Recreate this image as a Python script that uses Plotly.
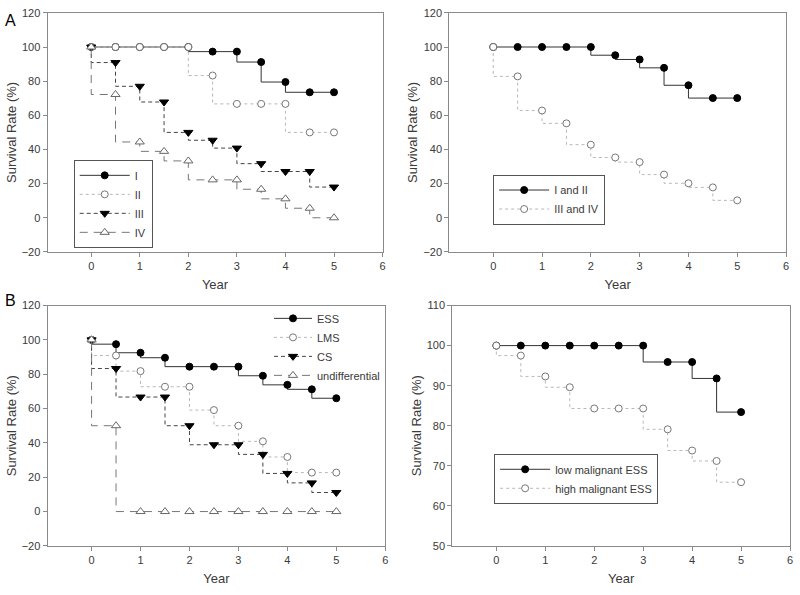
import plotly.graph_objects as go

# ---------------- data ----------------
years = [0, 0.5, 1, 1.5, 2, 2.5, 3, 3.5, 4, 4.5, 5]

# Panel A (left): by stage
stage_I = [100, 100, 100, 100, 100, 97.3, 97.3, 91.2, 79.5, 73.5, 73.5]
stage_II = [100, 100, 100, 100, 100, 83.3, 66.7, 66.7, 66.7, 50.0, 50.0]
stage_III = [100, 90.9, 77.0, 67.8, 50.0, 45.4, 40.8, 31.7, 27.1, 27.1, 18.0]
stage_IV = [100, 72.2, 44.4, 38.9, 33.3, 22.2, 22.2, 16.7, 11.1, 5.6, 0.0]

# Panel A (right): grouped stages
stage_I_II = [100, 100, 100, 100, 100, 95.2, 92.7, 87.8, 77.6, 70.1, 70.1]
stage_III_IV = [100, 82.8, 62.8, 55.3, 42.8, 35.3, 32.6, 25.3, 20.2, 17.8, 10.2]

# Panel B (left): by histology
ess = [100, 97.5, 92.5, 89.6, 84.4, 84.4, 84.4, 79.1, 73.8, 71.2, 66.0]
lms = [100, 90.9, 81.8, 72.7, 72.7, 59.1, 50.0, 40.9, 31.8, 22.7, 22.7]
cs = [100, 83.3, 66.7, 66.7, 50.0, 38.9, 38.9, 33.3, 22.2, 16.7, 11.1]
undiff = [100, 50, 0, 0, 0, 0, 0, 0, 0, 0, 0]

# Panel B (right): ESS grade
low_ess = [100, 100, 100, 100, 100, 100, 100, 95.9, 95.9, 91.8, 83.4]
high_ess = [100, 97.5, 92.3, 89.6, 84.3, 84.3, 84.3, 79.1, 73.8, 71.2, 65.9]

x_ticks = [0, 1, 2, 3, 4, 5, 6]
y_ticks_a = [-20, 0, 20, 40, 60, 80, 100, 120]
y_ticks_br = [50, 60, 70, 80, 90, 100, 110]

# ---------------- styles ----------------
FONT = "Liberation Sans"
AX = "#8a8a8a"
TXT = "#3a3a3a"

STY = {
    "filled_circle": dict(line=dict(color="#333333", width=1, dash="solid"),
                          marker=dict(symbol="circle", size=7, color="black",
                                      line=dict(color="black", width=1))),
    "open_circle": dict(line=dict(color="#b8b8b8", width=1, dash="dot"),
                        marker=dict(symbol="circle", size=7, color="white",
                                    line=dict(color="#777777", width=1))),
    "filled_tri": dict(line=dict(color="#444444", width=1, dash="4px,3px"),
                       marker=dict(symbol="triangle-down", size=8, color="black",
                                   line=dict(color="black", width=1))),
    "open_tri": dict(line=dict(color="#777777", width=1, dash="8px,6px"),
                     marker=dict(symbol="triangle-up", size=8, color="white",
                                 line=dict(color="#666666", width=1))),
}

fig = go.Figure()


def add(y, name, style, xa, ya, legend):
    s = STY[style]
    fig.add_trace(go.Scatter(
        x=years, y=y, name=name, mode="lines+markers", line_shape="vh",
        line=s["line"], marker=s["marker"], xaxis=xa, yaxis=ya,
        legend=legend, showlegend=True))


# Panel A left
add(stage_I, "I", "filled_circle", "x", "y", "legend")
add(stage_II, "II", "open_circle", "x", "y", "legend")
add(stage_III, "III", "filled_tri", "x", "y", "legend")
add(stage_IV, "IV", "open_tri", "x", "y", "legend")
# Panel A right
add(stage_I_II, "I and II", "filled_circle", "x2", "y2", "legend2")
add(stage_III_IV, "III and IV", "open_circle", "x2", "y2", "legend2")
# Panel B left
add(ess, "ESS", "filled_circle", "x3", "y3", "legend3")
add(lms, "LMS", "open_circle", "x3", "y3", "legend3")
add(cs, "CS", "filled_tri", "x3", "y3", "legend3")
add(undiff, "undifferential", "open_tri", "x3", "y3", "legend3")
# Panel B right
add(low_ess, "low malignant ESS", "filled_circle", "x4", "y4", "legend4")
add(high_ess, "high malignant ESS", "open_circle", "x4", "y4", "legend4")

W, H = 800, 595


def fx(px):
    return px / W


def fy(py):
    return 1 - py / H


def xaxis(dom, anchor):
    return dict(domain=dom, anchor=anchor, range=[-0.9, 6], tickvals=x_ticks,
                showgrid=False, zeroline=False, showline=True, linecolor=AX,
                linewidth=1, mirror=True, ticks="outside", ticklen=4,
                tickcolor=AX, tickfont=dict(family=FONT, size=11, color=TXT),
                title=dict(text="Year", standoff=8,
                           font=dict(family=FONT, size=13, color=TXT)))


def yaxis(dom, anchor, rng, tv):
    return dict(domain=dom, anchor=anchor, range=rng, tickvals=tv,
                showgrid=False, zeroline=False, showline=True, linecolor=AX,
                linewidth=1, mirror=True, ticks="outside", ticklen=4,
                tickcolor=AX, tickfont=dict(family=FONT, size=11, color=TXT),
                title=dict(text="Survival Rate (%)", standoff=2,
                           font=dict(family=FONT, size=13, color=TXT)))


top_dom = [fy(251), fy(7)]
bot_dom = [fy(551), fy(305.7)]

leg_common = dict(font=dict(family=FONT, size=11, color=TXT),
                  bgcolor="rgba(255,255,255,0)", xanchor="left", yanchor="top",
                  tracegroupgap=0)

fig.update_layout(
    width=W, height=H, autosize=False,
    margin=dict(l=0, r=0, t=0, b=0),
    paper_bgcolor="white", plot_bgcolor="white",
    font=dict(family=FONT, color=TXT),
    xaxis=xaxis([fx(47.7), fx(384)], "y"),
    yaxis=yaxis(top_dom, "x", [-20, 120], y_ticks_a),
    xaxis2=xaxis([fx(451), fx(789)], "y2"),
    yaxis2=yaxis(top_dom, "x2", [-20, 120], y_ticks_a),
    xaxis3=xaxis([fx(47.7), fx(386.7)], "y3"),
    yaxis3=yaxis(bot_dom, "x3", [-20, 120], y_ticks_a),
    xaxis4=xaxis([fx(454), fx(793)], "y4"),
    yaxis4=yaxis(bot_dom, "x4", [50, 110], y_ticks_br),
    legend=dict(x=fx(74), y=fy(157), bordercolor="#555555", borderwidth=1,
                itemwidth=50, **leg_common),
    legend2=dict(x=fx(495), y=fy(172), bordercolor="#555555", borderwidth=1,
                 itemwidth=50, **leg_common),
    legend3=dict(x=fx(270), y=fy(304), borderwidth=0, itemwidth=38,
                 **leg_common),
    legend4=dict(x=fx(496), y=fy(457), bordercolor="#555555", borderwidth=1,
                 itemwidth=50, **leg_common),
    annotations=[
        dict(text="A", x=fx(3), y=fy(4), xref="paper", yref="paper",
             xanchor="left", yanchor="top", showarrow=False,
             font=dict(family=FONT, size=16, color="black")),
        dict(text="B", x=fx(3), y=fy(290), xref="paper", yref="paper",
             xanchor="left", yanchor="top", showarrow=False,
             font=dict(family=FONT, size=16, color="black")),
    ],
)

fig.write_html("out.html", config={"displayModeBar": False},
               post_script="document.body.style.margin='0';")
